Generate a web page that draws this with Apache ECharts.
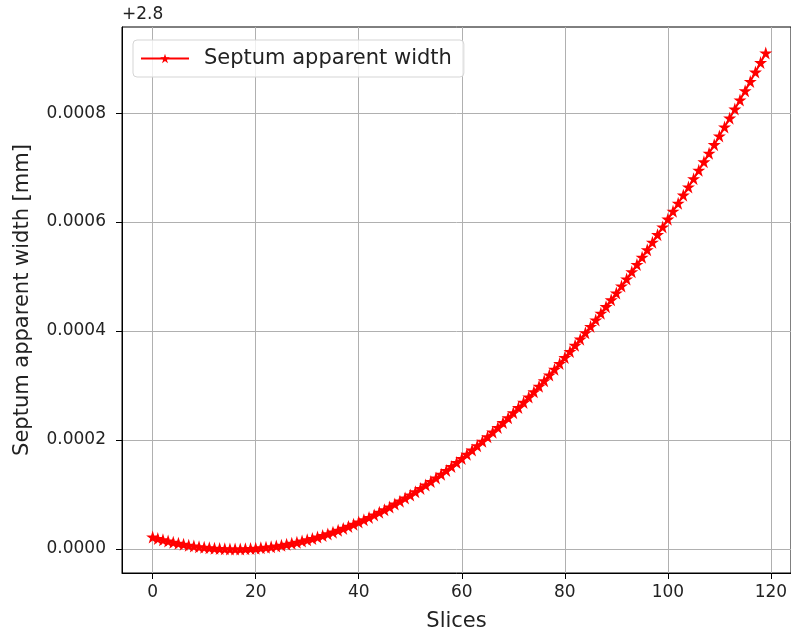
<!DOCTYPE html>
<html>
<head>
<meta charset="utf-8">
<script src="https://cdn.jsdelivr.net/npm/echarts@6/dist/echarts.min.js"></script>
<style>html,body{margin:0;padding:0;background:#fff}#c{width:791px;height:634px}</style>
</head>
<body>
<div id="c"></div>
<script>
// Offset of the y axis (matplotlib offset text "+2.8")
const yOffset = 2.8;
// Slice indices 0..119
const slices = [
  0,1,2,3,4,5,6,7,8,9,10,11,12,13,14,15,16,17,18,19,
  20,21,22,23,24,25,26,27,28,29,30,31,32,33,34,35,36,37,38,39,
  40,41,42,43,44,45,46,47,48,49,50,51,52,53,54,55,56,57,58,59,
  60,61,62,63,64,65,66,67,68,69,70,71,72,73,74,75,76,77,78,79,
  80,81,82,83,84,85,86,87,88,89,90,91,92,93,94,95,96,97,98,99,
  100,101,102,103,104,105,106,107,108,109,110,111,112,113,114,115,116,117,118,119
];
// Septum apparent width above 2.8 mm, in units of 1e-6 mm
const widthMicro = [
  21.96,19.31,16.82,14.50,12.36,10.38,8.58,6.95,5.49,4.20,
  3.09,2.15,1.37,0.77,0.34,0.09,0.00,0.09,0.34,0.77,
  1.37,2.15,3.09,4.20,5.49,6.95,8.58,10.38,12.36,14.50,
  16.82,19.31,21.96,24.80,27.80,30.97,34.32,37.84,41.53,45.39,
  49.42,53.63,58.00,62.55,67.27,72.16,77.22,82.45,87.86,93.44,
  99.18,105.11,111.20,117.46,123.90,130.50,137.28,144.23,151.35,158.64,
  166.11,173.75,181.55,189.53,197.68,206.01,214.50,223.17,232.00,241.01,
  250.19,259.55,269.07,278.76,288.63,298.67,308.88,319.26,329.82,340.54,
  351.44,362.51,373.74,385.16,396.74,408.49,420.42,432.52,444.79,457.23,
  469.84,482.63,495.58,508.71,522.01,535.48,549.12,562.93,576.92,591.08,
  605.40,619.91,634.58,649.42,664.44,679.62,694.98,710.51,726.21,742.08,
  758.13,774.35,790.73,807.29,824.02,840.93,858.00,875.25,892.66,910.25
];
const xTicks = [0,20,40,60,80,100,120];
const yTicks = [0,200,400,600,800];

const starPath = 'path://M0,-10 L2.245,-3.09 L9.51,-3.09 L3.633,1.18 L5.88,8.09 L0,3.82 L-5.88,8.09 L-3.633,1.18 L-9.51,-3.09 L-2.245,-3.09 Z';
const font = 'DejaVu Sans';
const textColor = '#222';

const chart = echarts.init(document.getElementById('c'), null, {renderer: 'canvas'});
chart.setOption({
  animation: false,
  backgroundColor: '#fff',
  textStyle: {fontFamily: font},
  grid: {left: 122, top: 27, right: 0, bottom: 61, outerBoundsMode: 'none', containLabel: false,
    show: true, borderColor: '#000', borderWidth: 1, backgroundColor: 'transparent'},
  xAxis: {
    type: 'value', min: -5.95, max: 123.9, interval: 20,
    name: 'Slices', nameLocation: 'middle', nameGap: 38,
    nameTextStyle: {fontSize: 21, color: textColor, fontFamily: font},
    axisLine: {show: true, onZero: false, lineStyle: {color: '#000', width: 1}},
    axisTick: {show: true, inside: false, length: 6, lineStyle: {color: '#000'}, customValues: xTicks},
    axisLabel: {fontSize: 17, color: textColor, fontFamily: font, margin: 11, customValues: xTicks,
      formatter: v => String(Math.round(v))},
    splitLine: {show: true, lineStyle: {color: '#b0b0b0', width: 1}}
  },
  yAxis: {
    type: 'value', min: -44, max: 958, interval: 200,
    name: 'Septum apparent width [mm]', nameLocation: 'middle', nameGap: 89,
    nameTextStyle: {fontSize: 21, color: textColor, fontFamily: font},
    axisLine: {show: true, onZero: false, lineStyle: {color: '#000', width: 1}},
    axisTick: {show: true, inside: false, length: 6, lineStyle: {color: '#000'}, customValues: yTicks},
    axisLabel: {fontSize: 17, color: textColor, fontFamily: font, margin: 16, customValues: yTicks,
      formatter: v => (v * 1e-6).toFixed(4)},
    splitLine: {show: true, lineStyle: {color: '#b0b0b0', width: 1}}
  },
  legend: {
    show: true, left: 133, top: 40,
    orient: 'horizontal',
    padding: [8, 12, 8, 7],
    itemWidth: 48, itemHeight: 12, itemGap: 10,
    borderColor: '#d5d5d5', borderWidth: 1, borderRadius: 4,
    backgroundColor: 'rgba(255,255,255,0.8)',
    textStyle: {fontSize: 21, color: textColor, fontFamily: font, padding: [0,0,0,10]},
    data: ['Septum apparent width']
  },
  graphic: [{
    type: 'text', left: 122, top: 6,
    style: {text: '+' + yOffset.toFixed(1), fontSize: 17, fill: textColor, fontFamily: font}
  }],
  series: [{
    name: 'Septum apparent width',
    type: 'line',
    data: slices.map((s, i) => [s, widthMicro[i]]),
    symbol: starPath, symbolSize: 13, showAllSymbol: true,
    lineStyle: {color: '#ff0000', width: 2},
    itemStyle: {color: '#ff0000'},
    clip: false
  }]
});
</script>
</body>
</html>
